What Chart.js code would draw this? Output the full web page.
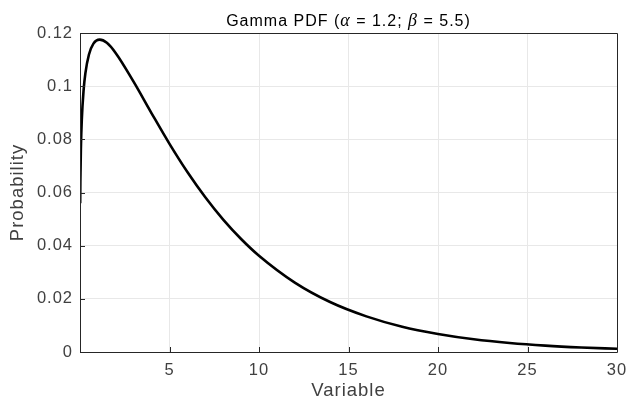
<!DOCTYPE html>
<html>
<head>
<meta charset="utf-8">
<script src="https://cdn.jsdelivr.net/npm/chart.js@4.4.0/dist/chart.umd.min.js"></script>
<style>
  html, body { margin: 0; padding: 0; background: #fff; }
  #wrap { width: 628px; height: 403px; }
</style>
</head>
<body>
<div id="wrap"><canvas id="chart" width="628" height="403"></canvas></div>
<script>
// values
const xValues = [0.01, 0.02, 0.05, 0.1, 0.2, 0.3, 0.5, 0.75, 1.1, 1.5, 2, 3, 4, 5, 6, 7, 8, 9, 10,
  12, 14, 16, 18, 20, 22, 24, 26, 28, 30];
const yValues = [0.056, 0.0643, 0.0766, 0.0873, 0.0984, 0.1048, 0.1119, 0.116, 0.1175, 0.1163, 0.1124,
  0.1016, 0.0898, 0.0783, 0.0677, 0.0582, 0.0498, 0.0425, 0.0362,
  0.0261, 0.0187, 0.0134, 0.0095, 0.0068, 0.0048, 0.0034, 0.0024, 0.0017, 0.0012];
const xTicks = [5, 10, 15, 20, 25, 30];
const yTicks = [0, 0.02, 0.04, 0.06, 0.08, 0.1, 0.12];

// title pieces: plain text and the italic greek letters
const titleParts = [
  { text: 'Gamma PDF (', math: false },
  { text: 'α', math: true },
  { text: ' = 1.2; ', math: false },
  { text: 'β', math: true },
  { text: ' = 5.5)', math: false }
];

const FONT = 'Liberation Sans, Arial, Helvetica, sans-serif';
const AXIS_COLOR = '#262626';
const LABEL_COLOR = '#404040';
const SPACING = '1px';

const points = xValues.map(function(x, i) {
  return { x: x, y: yValues[i] };
});

// slightly wider letter spacing, like the original renderer
const spacingPlugin = {
  id: 'letter_spacing',
  beforeInit: function(chart) { chart.ctx.letterSpacing = SPACING; },
  beforeUpdate: function(chart) { chart.ctx.letterSpacing = SPACING; },
  beforeDraw: function(chart) { chart.ctx.letterSpacing = SPACING; }
};

// box around the plot area plus inward ticks on bottom and left axes
const boxPlugin = {
  id: 'box_and_ticks',
  afterDraw: function(chart) {
    const ctx = chart.ctx;
    const a = chart.chartArea;
    const xs = chart.scales.x;
    const ys = chart.scales.y;
    ctx.save();
    ctx.strokeStyle = AXIS_COLOR;
    ctx.lineWidth = 1;
    ctx.beginPath();
    ctx.rect(Math.round(a.left) + 0.5, Math.round(a.top) + 0.5,
      Math.round(a.right - a.left), Math.round(a.bottom - a.top));
    ctx.stroke();
    ctx.beginPath();
    xTicks.forEach(function(t) {
      const px = Math.round(xs.getPixelForValue(t)) + 0.5;
      ctx.moveTo(px, a.bottom);
      ctx.lineTo(px, a.bottom - 5);
    });
    yTicks.forEach(function(t) {
      const py = Math.round(ys.getPixelForValue(t)) + 0.5;
      ctx.moveTo(a.left, py);
      ctx.lineTo(a.left + 5, py);
    });
    ctx.stroke();

    // title, centred over the plot area
    const plain = '16px ' + FONT;
    const math = 'italic 18px "Liberation Serif", "DejaVu Serif", serif';
    ctx.letterSpacing = '1px';
    let total = 0;
    titleParts.forEach(function(p) {
      ctx.font = p.math ? math : plain;
      p.w = ctx.measureText(p.text).width;
      total += p.w;
    });
    let x = (a.left + a.right) / 2 - total / 2;
    ctx.fillStyle = '#000000';
    ctx.textAlign = 'left';
    ctx.textBaseline = 'alphabetic';
    titleParts.forEach(function(p) {
      ctx.font = p.math ? math : plain;
      ctx.fillText(p.text, x, 25.5);
      x += p.w;
    });
    ctx.restore();
  }
};

const ctx = document.getElementById('chart').getContext('2d');
const chart = new Chart(ctx, {
  type: 'line',
  plugins: [spacingPlugin, boxPlugin],
  data: {
    datasets: [{
      data: points,
      borderColor: '#000000',
      borderWidth: 2.6,
      pointRadius: 0,
      fill: false,
      cubicInterpolationMode: 'monotone'
    }]
  },
  options: {
    responsive: false,
    animation: false,
    layout: { padding: { left: 0, right: 0, top: 33, bottom: 0 } },
    plugins: {
      legend: { display: false },
      tooltip: { enabled: false },
      title: { display: false }
    },
    scales: {
      x: {
        type: 'linear',
        min: 0,
        max: 30,
        afterBuildTicks: function(scale) {
          scale.ticks = xTicks.map(function(v) { return { value: v }; });
        },
        afterFit: function(scale) {
          scale.height = 51;
          scale.paddingLeft = 0;
          scale.paddingRight = 11;
        },
        grid: { color: '#e8e8e8', drawTicks: false },
        border: { display: false },
        ticks: {
          color: LABEL_COLOR,
          font: { family: FONT, size: 16.5 },
          padding: 9,
          maxRotation: 0
        },
        title: {
          display: true,
          text: 'Variable',
          color: LABEL_COLOR,
          font: { family: FONT, size: 18.5, lineHeight: 1 },
          padding: { top: 0, bottom: 3 }
        }
      },
      y: {
        min: 0,
        max: 0.12,
        afterBuildTicks: function(scale) {
          scale.ticks = yTicks.map(function(v) { return { value: v }; });
        },
        afterFit: function(scale) { scale.width = 80; },
        grid: { color: '#e8e8e8', drawTicks: false },
        border: { display: false },
        ticks: {
          color: LABEL_COLOR,
          font: { family: FONT, size: 16.5 },
          padding: 7,
          callback: function(v) { return String(+v.toFixed(2)); }
        },
        title: {
          display: true,
          text: 'Probability',
          color: LABEL_COLOR,
          font: { family: FONT, size: 18.5, lineHeight: 1 },
          padding: { top: 9, bottom: 0 }
        }
      }
    }
  }
});
</script>
</body>
</html>
